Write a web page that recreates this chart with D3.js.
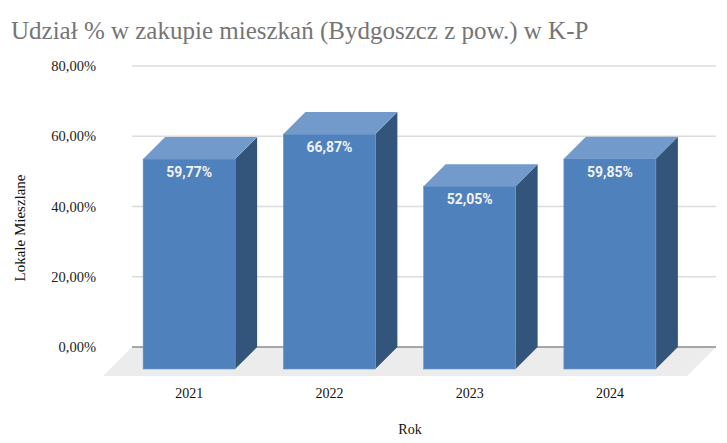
<!DOCTYPE html>
<html>
<head>
<meta charset="utf-8">
<script src="https://cdn.jsdelivr.net/npm/d3@7"></script>
<style>
  body { margin: 0; background: #fff; }
  svg { display: block; }
</style>
</head>
<body>
<div id="chart"></div>
<script>
"use strict";

// data
var years = ["2021", "2022", "2023", "2024"];
var shares = [59.77, 66.87, 52.05, 59.85];
var tickValues = [0, 20, 40, 60, 80];

var width = 727, height = 443;

// back wall (where the gridlines live)
var wall = { left: 132, right: 716, top: 66, bottom: 347 };
var depth = 22;      // bar depth, shifted down-left
var floorDepth = 29; // floor sticks out a bit further

var svg = d3.select("#chart").append("svg")
  .attr("width", width)
  .attr("height", height);

var y = d3.scaleLinear().domain([0, 80]).range([wall.bottom, wall.top]);

// band on the front plane of the bars
var x = d3.scaleBand()
  .domain(years)
  .range([119, 680])
  .paddingInner(0.344)
  .paddingOuter(0.172);

var fmt = function (v) { return v.toFixed(2).replace(".", ",") + "%"; };

// title
svg.append("text")
  .attr("x", 11)
  .attr("y", 39)
  .style("font-family", "'Liberation Serif', 'Times New Roman', serif")
  .style("font-size", "25px")
  .style("fill", "#757575")
  .text("Udział % w zakupie mieszkań (Bydgoszcz z pow.) w K-P");

// gridlines
svg.append("g").selectAll("line")
  .data(tickValues.filter(function (t) { return t > 0; }))
  .enter().append("line")
  .attr("x1", wall.left).attr("x2", wall.right)
  .attr("y1", function (d) { return y(d); })
  .attr("y2", function (d) { return y(d); })
  .style("stroke", "#dcdcdc")
  .style("stroke-width", 1.5);

// floor
var fb = y(0);
svg.append("path")
  .attr("d", "M" + wall.left + "," + fb + "L" + wall.right + "," + fb +
    "L" + (wall.right - floorDepth) + "," + (fb + floorDepth) +
    "L" + (wall.left - floorDepth) + "," + (fb + floorDepth) + "Z")
  .style("fill", "#ececec");

// baseline
svg.append("line")
  .attr("x1", wall.left).attr("x2", wall.right)
  .attr("y1", fb).attr("y2", fb)
  .style("stroke", "#8c8c8c")
  .style("stroke-width", 1.5);

// y tick labels
svg.append("g").selectAll("text")
  .data(tickValues)
  .enter().append("text")
  .attr("x", 96)
  .attr("y", function (d) { return y(d) + 5; })
  .attr("text-anchor", "end")
  .style("font-family", "'Liberation Serif', 'Times New Roman', serif")
  .style("font-size", "14.5px")
  .style("fill", "#222")
  .text(fmt);

// bars: back face sits on the wall scale, front face shifted by depth
var bars = svg.append("g").selectAll("g")
  .data(years.map(function (yr, i) { return { year: yr, v: shares[i] }; }))
  .enter().append("g");

bars.each(function (d) {
  var g = d3.select(this);
  var x0 = x(d.year), x1 = x0 + x.bandwidth();
  var yt = y(d.v) + depth, yb = y(0) + depth; // front face top/bottom

  // side
  g.append("path")
    .attr("d", "M" + x1 + "," + yt + "L" + (x1 + depth) + "," + (yt - depth) +
      "L" + (x1 + depth) + "," + (yb - depth) + "L" + x1 + "," + yb + "Z")
    .style("fill", "#34557b");
  // top
  g.append("path")
    .attr("d", "M" + x0 + "," + yt + "L" + (x0 + depth) + "," + (yt - depth) +
      "L" + (x1 + depth) + "," + (yt - depth) + "L" + x1 + "," + yt + "Z")
    .style("fill", "#729acb");
  // front
  g.append("rect")
    .attr("x", x0).attr("y", yt)
    .attr("width", x.bandwidth()).attr("height", yb - yt)
    .style("fill", "#4f81bd")
    .style("stroke", "#6d95c8")
    .style("stroke-width", 0.6);
  // value
  g.append("text")
    .attr("x", (x0 + x1) / 2)
    .attr("y", yt + 18)
    .attr("text-anchor", "middle")
    .style("font-family", "Roboto, 'Liberation Sans', Arial, sans-serif")
    .style("font-weight", "bold")
    .style("font-size", "14px")
    .style("fill", "#f2f2f2")
    .text(fmt(d.v));
});

// x labels
svg.append("g").selectAll("text")
  .data(years)
  .enter().append("text")
  .attr("x", function (d) { return x(d) + x.bandwidth() / 2; })
  .attr("y", 398)
  .attr("text-anchor", "middle")
  .style("font-family", "'Liberation Serif', 'Times New Roman', serif")
  .style("font-size", "14px")
  .style("fill", "#111")
  .text(function (d) { return d; });

// axis titles
svg.append("text")
  .attr("x", 410)
  .attr("y", 434)
  .attr("text-anchor", "middle")
  .style("font-family", "'Liberation Serif', 'Times New Roman', serif")
  .style("font-size", "14px")
  .style("fill", "#111")
  .text("Rok");

svg.append("text")
  .attr("transform", "translate(25,228) rotate(-90)")
  .attr("text-anchor", "middle")
  .style("font-family", "'Liberation Serif', 'Times New Roman', serif")
  .style("font-size", "15px")
  .style("fill", "#111")
  .text("Lokale Mieszlane");
</script>
</body>
</html>
